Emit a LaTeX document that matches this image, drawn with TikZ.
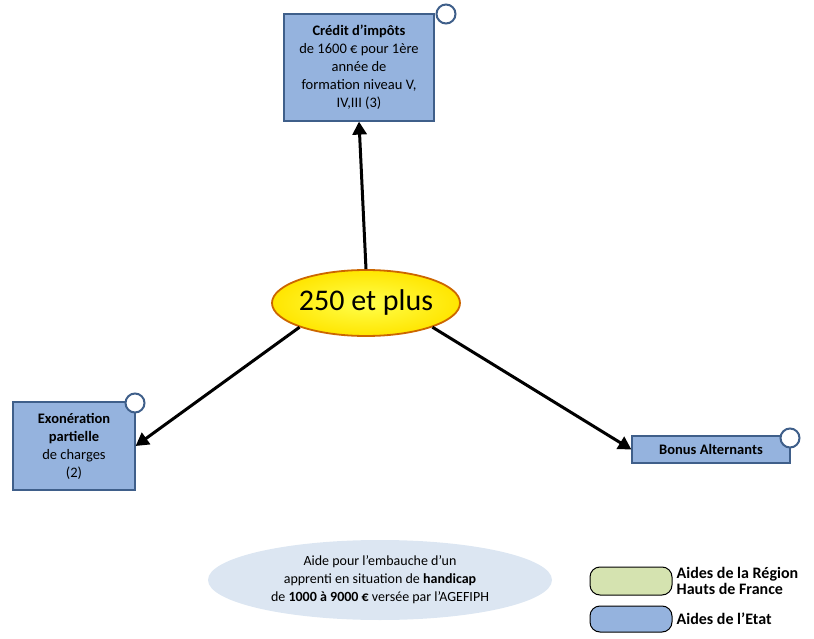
\documentclass[tikz,border=0pt]{standalone}
\usepackage{fontspec}
\setmainfont{Carlito}
\usetikzlibrary{shapes.geometric,arrows.meta}
\definecolor{etat}{HTML}{95B3DE}
\definecolor{etatline}{HTML}{3F5F8A}
\definecolor{region}{HTML}{D5E3B0}
\definecolor{handi}{HTML}{DCE6F2}
\begin{document}
\begin{tikzpicture}[x=1pt,y=-1pt,
                    aide/.style={draw=etatline,fill=etat,line width=1.2pt,align=center,
                                 font=\fontsize{14.5}{18}\selectfont,inner sep=2pt},
                    pin/.style={circle,draw=etatline,fill=white,line width=2pt,minimum size=19pt,inner sep=0pt},
                    fleche/.style={-{Triangle[length=13pt,width=14pt]},line width=3pt}]
  \useasboundingbox (0,0) rectangle (814,639);
  \node[aide,minimum width=150pt,minimum height=107pt] (credit) at (359,67.5)
    {\textbf{Crédit d’impôts}\\de 1600 € pour 1ère\\année de\\formation niveau V,\\IV,III (3)};
  \node[pin] (pcredit) at (446,14) {};
  \node[aide,minimum width=122pt,minimum height=88pt] (exo) at (74,446)
    {\textbf{Exonération}\\\textbf{partielle}\\de charges\\(2)};
  \node[pin] (pexo) at (135,403) {};
  \node[aide,minimum width=158pt,minimum height=27pt] (bonus) at (711,449.5)
    {\textbf{Bonus Alternants}};
  \node[pin] (pbonus) at (790,438) {};
  \node[ellipse,draw=orange!80!black,line width=1.8pt,inner color=yellow!70!white,outer color=yellow!80!orange,
        minimum width=188pt,minimum height=66pt,inner sep=-6pt,font=\fontsize{30}{34}\selectfont] (taille) at (366,303) {250 et plus};
  \draw[fleche] (taille.north) -- (credit.south);
  \draw[fleche] (taille.-160) -- (exo.east);
  \draw[fleche] (taille.-20) -- (bonus.west);
  \node[ellipse,fill=handi,minimum width=344pt,minimum height=80pt,align=center,
        font=\fontsize{14}{18}\selectfont] (handicap) at (380,580)
    {Aide pour l’embauche d’un\\apprenti en situation de \textbf{handicap}\\de \textbf{1000 à 9000 €} versée par l’AGEFIPH};
  \node[draw,line width=1pt,fill=region,rounded corners=10pt,minimum width=82pt,minimum height=28pt] (lregion) at (631,581) {};
  \node[anchor=west,align=left,inner sep=4pt,font=\fontsize{16}{16}\selectfont\bfseries] at (lregion.east) {Aides de la Région\\Hauts de France};
  \node[draw,line width=1pt,fill=etat,rounded corners=10pt,minimum width=82pt,minimum height=26pt] (letat) at (631,619) {};
  \node[anchor=west,inner sep=4pt,font=\fontsize{16}{16}\selectfont\bfseries] at (letat.east) {Aides de l’Etat};
\end{tikzpicture}
\end{document}
